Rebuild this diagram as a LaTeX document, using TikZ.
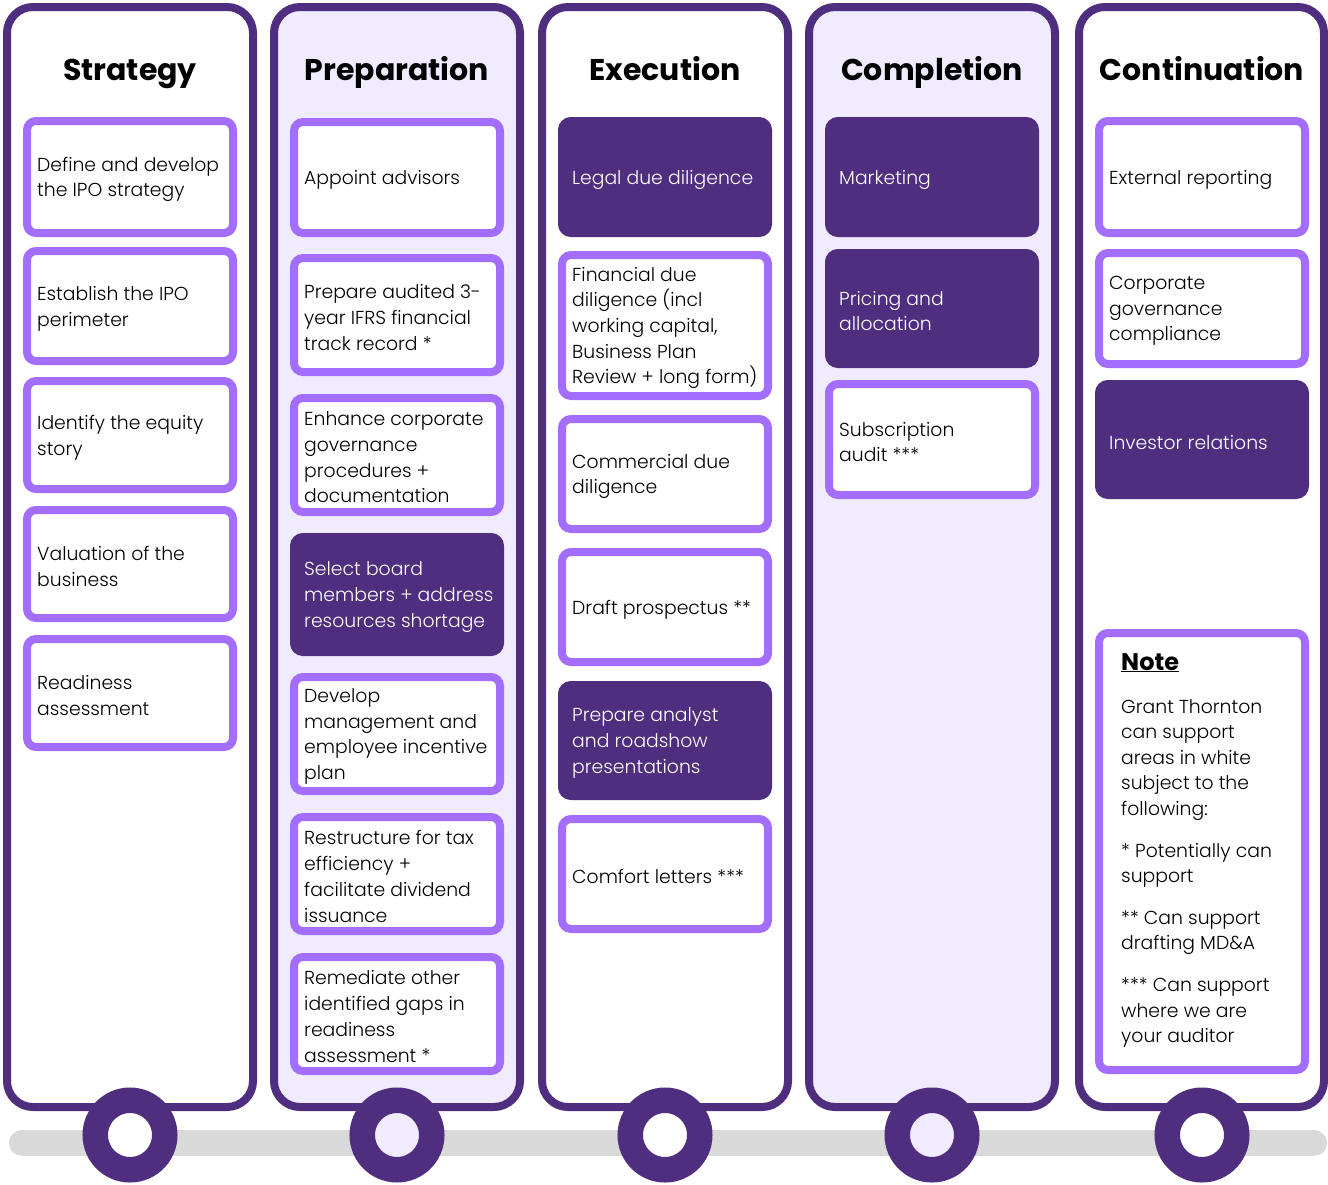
\documentclass[tikz,border=0pt]{standalone}
\usepackage{fontspec}
\setmainfont{Poppins}
\newfontfamily\lightfont{Poppins Light}
\definecolor{gtpurple}{HTML}{4F2D7F}
\definecolor{gtviolet}{HTML}{A36EFF}
\definecolor{gtlav}{HTML}{F0EBFF}
\definecolor{trackgrey}{HTML}{D9D9D9}

\tikzset{
  column/.style={draw=gtpurple, line width=8pt, rounded corners=26pt, outer sep=0pt,
    minimum width=246pt, minimum height=1100pt, inner sep=0pt, anchor=north west},
  lightbox/.style={draw=gtviolet, fill=white, line width=8pt, rounded corners=9pt,
    outer sep=0pt, minimum width=206pt, inner sep=0pt},
  darkbox/.style={draw=gtpurple, fill=gtpurple, line width=8pt, rounded corners=9pt,
    outer sep=0pt, minimum width=206pt, inner sep=0pt},
  lightboxtext/.style={text=black},
  darkboxtext/.style={text=white},
  tasktext/.style={anchor=west, align=left, inner sep=0pt,
    font=\lightfont\fontsize{18.8}{25.7}\selectfont},
  phasetitle/.style={font=\fontsize{30}{36}\selectfont\bfseries, inner sep=0pt, anchor=base},
  wheel/.style={circle, draw=gtpurple, line width=25.5pt, minimum size=69.5pt, inner sep=0pt},
  track/.style={draw=trackgrey, line width=26pt, line cap=round}
}

% #1 name, #2 box style, #3 left x, #4 top y, #5 bottom y, #6 text
\newcommand\taskbox[6]{%
  \pgfmathsetmacro\boxh{#5-#4-8}
  \node[#2, minimum height=\boxh pt, anchor=north west] (#1) at (#3+4,#4+4) {};
  \node[tasktext, #2text] (#1t) at ([xshift=10pt,yshift=-2.5pt]#1.west) {#6};
}

\begin{document}
\begin{tikzpicture}[x=1pt,y=-1pt]
\useasboundingbox (0,0) rectangle (1328,1184);

% ground track
\coordinate (trackL) at (22,1143);
\coordinate (trackR) at (1314,1143);
\draw[track] (trackL) -- (trackR);

% phase columns
\node[column, fill=white] (colA) at (7,7) {};
\node[column, fill=gtlav] (colB) at (274,7) {};
\node[column, fill=white] (colC) at (542,7) {};
\node[column, fill=gtlav] (colD) at (809,7) {};
\node[column, fill=white, minimum width=245pt] (colE) at (1079,7) {};

% wheels
\node[wheel, fill=white] (wA) at (130,1135) {};
\node[wheel, fill=gtlav] (wB) at (397,1135) {};
\node[wheel, fill=white] (wC) at (665,1135) {};
\node[wheel, fill=gtlav] (wD) at (932,1135) {};
\node[wheel, fill=white] (wE) at (1202,1135) {};

% titles
\node[phasetitle] (tA) at (130,80) {Strategy};
\node[phasetitle] (tB) at (397,80) {Preparation};
\node[phasetitle] (tC) at (665,80) {Execution};
\node[phasetitle] (tD) at (932,80) {Completion};
\node[phasetitle] (tE) at (1202,80) {Continuation};

% Strategy
\taskbox{a1}{lightbox}{23}{117}{237}{Define and develop\\the IPO strategy}
\taskbox{a2}{lightbox}{23}{247}{365}{Establish the IPO\\perimeter}
\taskbox{a3}{lightbox}{23}{377}{493}{Identify the equity\\story}
\taskbox{a4}{lightbox}{23}{506}{622}{Valuation of the\\business}
\taskbox{a5}{lightbox}{23}{635}{751}{Readiness\\assessment}

% Preparation
\taskbox{b1}{lightbox}{290}{118}{237}{Appoint advisors}
\taskbox{b2}{lightbox}{290}{254}{376}{Prepare audited 3-\\year IFRS financial\\track record *}
\taskbox{b3}{lightbox}{290}{394}{516}{Enhance corporate\\governance\\procedures +\\documentation}
\taskbox{b4}{darkbox}{290}{533}{656}{Select board\\members + address\\resources shortage}
\taskbox{b5}{lightbox}{290}{673}{795}{Develop\\management and\\employee incentive\\plan}
\taskbox{b6}{lightbox}{290}{813}{935}{Restructure for tax\\efficiency +\\facilitate dividend\\issuance}
\taskbox{b7}{lightbox}{290}{953}{1075}{Remediate other\\identified gaps in\\readiness\\assessment *}

% Execution
\taskbox{c1}{darkbox}{558}{117}{237}{Legal due diligence}
\taskbox{c2}{lightbox}{558}{251}{400}{Financial due\\diligence (incl\\working capital,\\Business Plan\\Review + long form)}
\taskbox{c3}{lightbox}{558}{415}{533}{Commercial due\\diligence}
\taskbox{c4}{lightbox}{558}{548}{666}{Draft prospectus **}
\taskbox{c5}{darkbox}{558}{681}{800}{Prepare analyst\\and roadshow\\presentations}
\taskbox{c6}{lightbox}{558}{815}{933}{Comfort letters ***}

% Completion
\taskbox{d1}{darkbox}{825}{117}{237}{Marketing}
\taskbox{d2}{darkbox}{825}{249}{368}{Pricing and\\allocation}
\taskbox{d3}{lightbox}{825}{380}{499}{Subscription\\audit ***}

% Continuation
\taskbox{e1}{lightbox}{1095}{117}{237}{External reporting}
\taskbox{e2}{lightbox}{1095}{249}{368}{Corporate\\governance\\compliance}
\taskbox{e3}{darkbox}{1095}{380}{499}{Investor relations}

% note
\node[lightbox, minimum height=437pt, anchor=north west] (note) at (1099,633) {};
\node[anchor=base west, inner sep=0pt, font=\fontsize{24}{28}\selectfont\bfseries] (notehead)
  at (1121,670) {\underline{Note}};
\node[anchor=north west, align=left, inner sep=0pt, font=\lightfont\fontsize{18.8}{25.6}\selectfont] (notebody)
  at (1121,699) {Grant Thornton\\can support\\areas in white\\subject to the\\following:\\[16pt]
  * Potentially can\\support\\[16pt]
  ** Can support\\drafting MD\&A\\[16pt]
  *** Can support\\where we are\\your auditor};
\end{tikzpicture}
\end{document}
